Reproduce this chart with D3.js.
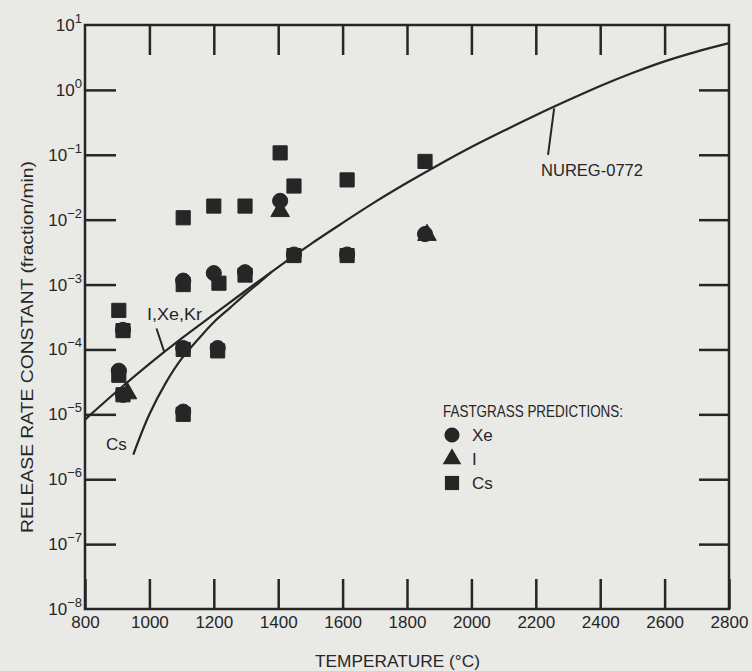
<!DOCTYPE html>
<html lang="en">
<head>
    <meta charset="UTF-8">
    <title>Release rate constant vs temperature</title>
    <script src="https://d3js.org/d3.v7.min.js"></script>
    <style>
        body {
            margin: 0;
            padding: 0;
            background-color: #e9e9e6;
        }
        svg {
            display: block;
            font-family: "Liberation Sans", Arial, sans-serif;
        }
        .ink { fill: #262626; }
    </style>
</head>
<body>
    <svg id="chart"></svg>

    <script>
        // NUREG-0772 curve (I, Xe, Kr)
        const nuregTemp = [800, 900, 1000, 1100, 1200, 1300, 1400, 1500, 1600, 1700, 1800, 1900, 2000, 2100, 2200, 2300, 2400, 2500, 2600, 2700, 2800];
        const nuregRate = [8.3e-6, 2.29e-5, 6.0e-5, 1.48e-4, 3.47e-4, 8.1e-4, 1.86e-3, 4.17e-3, 8.9e-3, 1.86e-2, 3.7e-2, 7.1e-2, 1.32e-1, 2.34e-1, 4.07e-1, 6.9e-1, 1.15, 1.82, 2.75, 3.89, 5.25];

        // NUREG-0772 Cs branch
        const csTemp = [950, 1000, 1050, 1100, 1150, 1200, 1250, 1300, 1350, 1380];
        const csRate = [2.4e-6, 1.0e-5, 3.0e-5, 7.2e-5, 1.41e-4, 2.63e-4, 4.37e-4, 7.24e-4, 1.17e-3, 1.58e-3];

        // FASTGRASS predictions
        const xeTemp = [918, 905, 918, 1105, 1105, 1105, 1200, 1212, 1297, 1406, 1449, 1614, 1856];
        const xeRate = [2.0e-4, 4.7e-5, 2.0e-5, 1.15e-3, 1.05e-4, 1.1e-5, 1.5e-3, 1.05e-4, 1.55e-3, 1.95e-2, 2.9e-3, 2.9e-3, 6.0e-3];

        const iTemp = [932, 1406, 1862];
        const iRate = [2.1e-5, 1.35e-2, 5.8e-3];

        const csPtTemp = [905, 918, 905, 918, 1105, 1105, 1105, 1105, 1200, 1216, 1212, 1297, 1297, 1406, 1449, 1449, 1614, 1614, 1856];
        const csPtRate = [4.0e-4, 1.95e-4, 4.0e-5, 2.0e-5, 1.07e-2, 1.0e-3, 1.0e-4, 1.0e-5, 1.62e-2, 1.05e-3, 9.5e-5, 1.62e-2, 1.4e-3, 1.07e-1, 3.3e-2, 2.8e-3, 4.1e-2, 2.8e-3, 7.9e-2];

        const xTicks = [800, 1000, 1200, 1400, 1600, 1800, 2000, 2200, 2400, 2600, 2800];
        const yExponents = [1, 0, -1, -2, -3, -4, -5, -6, -7, -8];

        const width = 752, height = 671;
        const plotLeft = 85, plotRight = 729, plotTop = 25, plotBottom = 609;
        const ink = "#262626";

        const svg = d3.select("#chart").attr("width", width).attr("height", height);

        const x = d3.scaleLinear().domain([800, 2800]).range([plotLeft, plotRight]);
        const y = d3.scaleLog().domain([1e-8, 10]).range([plotBottom, plotTop]);

        // frame
        svg.append("rect")
            .attr("x", plotLeft).attr("y", plotTop)
            .attr("width", plotRight - plotLeft).attr("height", plotBottom - plotTop)
            .attr("fill", "none").attr("stroke", ink).attr("stroke-width", 2.5);

        // axes with inward ticks
        const styleAxis = g => {
            g.select(".domain").remove();
            g.selectAll(".tick line").attr("stroke", ink).attr("stroke-width", 2.5);
        };

        const xBottom = svg.append("g")
            .attr("transform", `translate(0,${plotBottom})`)
            .call(d3.axisBottom(x).tickValues(xTicks).tickSizeInner(-30).tickSizeOuter(0).tickPadding(7).tickFormat(d3.format("d")))
            .call(styleAxis);
        xBottom.selectAll(".tick text")
            .attr("fill", ink).attr("font-size", 17).attr("font-family", "Liberation Sans, Arial, sans-serif");

        svg.append("g")
            .attr("transform", `translate(0,${plotTop})`)
            .call(d3.axisTop(x).tickValues(xTicks.slice(1, -1)).tickSizeInner(-30).tickSizeOuter(0).tickFormat(""))
            .call(styleAxis);

        const yVals = yExponents.map(e => Math.pow(10, e));

        svg.append("g")
            .attr("transform", `translate(${plotLeft},0)`)
            .call(d3.axisLeft(y).tickValues(yVals.slice(1, -1)).tickSizeInner(-31).tickSizeOuter(0).tickFormat(""))
            .call(styleAxis);

        svg.append("g")
            .attr("transform", `translate(${plotRight},0)`)
            .call(d3.axisRight(y).tickValues(yVals.slice(1, -1)).tickSizeInner(-30).tickSizeOuter(0).tickFormat(""))
            .call(styleAxis);

        // y tick labels as 10^n
        yExponents.forEach(e => {
            const t = svg.append("text")
                .attr("class", "ink")
                .attr("x", plotLeft - 3)
                .attr("y", y(Math.pow(10, e)) + 6)
                .attr("text-anchor", "end")
                .attr("font-size", 17);
            t.append("tspan").text("10");
            t.append("tspan").attr("dy", -8).attr("font-size", 13).text(e < 0 ? "\u2212" + (-e) : e);
        });

        // axis titles
        svg.append("text")
            .attr("class", "ink")
            .attr("x", 315).attr("y", 667)
            .attr("font-size", 17)
            .attr("textLength", 165).attr("lengthAdjust", "spacingAndGlyphs")
            .text("TEMPERATURE (\u00B0C)");

        svg.append("text")
            .attr("class", "ink")
            .attr("transform", "translate(33,347) rotate(-90)")
            .attr("text-anchor", "middle")
            .attr("font-size", 16)
            .attr("textLength", 372).attr("lengthAdjust", "spacingAndGlyphs")
            .text("RELEASE RATE CONSTANT (fraction/min)");

        // curves
        const line = d3.line()
            .x(d => x(d[0]))
            .y(d => y(d[1]))
            .curve(d3.curveCatmullRom.alpha(0.5));

        svg.append("path")
            .datum(nuregTemp.map((t, i) => [t, nuregRate[i]]))
            .attr("d", line)
            .attr("fill", "none").attr("stroke", ink).attr("stroke-width", 2.2);

        svg.append("path")
            .datum(csTemp.map((t, i) => [t, csRate[i]]))
            .attr("d", line)
            .attr("fill", "none").attr("stroke", ink).attr("stroke-width", 2.2);

        // curve labels and leaders
        const leader = (t1, v1, t2, v2) => svg.append("line")
            .attr("x1", x(t1)).attr("y1", y(v1))
            .attr("x2", x(t2)).attr("y2", y(v2))
            .attr("stroke", ink).attr("stroke-width", 2);

        leader(2257, 5.2e-1, 2238, 1.0e-1);
        svg.append("text")
            .attr("class", "ink")
            .attr("x", 541).attr("y", 176)
            .attr("font-size", 17)
            .attr("textLength", 102).attr("lengthAdjust", "spacingAndGlyphs")
            .text("NUREG-0772");

        leader(1022, 2.1e-4, 1046, 9.2e-5);
        svg.append("text")
            .attr("class", "ink")
            .attr("x", 147).attr("y", 320)
            .attr("font-size", 16)
            .attr("textLength", 55).attr("lengthAdjust", "spacingAndGlyphs")
            .text("I,Xe,Kr");

        svg.append("text")
            .attr("class", "ink")
            .attr("x", 106).attr("y", 450)
            .attr("font-size", 17)
            .text("Cs");

        // FASTGRASS points
        const square = d3.symbol().type(d3.symbolSquare).size(200);
        const circle = d3.symbol().type(d3.symbolCircle).size(180);
        const triangle = d3.symbol().type(d3.symbolTriangle).size(150);

        const drawPoints = (temps, rates, sym) => {
            svg.append("g")
                .selectAll("path")
                .data(temps.map((t, i) => [t, rates[i]]))
                .enter()
                .append("path")
                .attr("d", sym)
                .attr("transform", d => `translate(${x(d[0])},${y(d[1])})`)
                .attr("fill", ink)
                .attr("stroke", ink).attr("stroke-width", 1).attr("stroke-linejoin", "round");
        };

        drawPoints(csPtTemp, csPtRate, square);
        drawPoints(xeTemp, xeRate, circle);
        drawPoints(iTemp, iRate, triangle);

        // legend
        svg.append("text")
            .attr("class", "ink")
            .attr("x", 443).attr("y", 417)
            .attr("font-size", 17)
            .attr("textLength", 180).attr("lengthAdjust", "spacingAndGlyphs")
            .text("FASTGRASS PREDICTIONS:");

        const legendItems = [
            { sym: circle, label: "Xe", y: 435 },
            { sym: triangle, label: "I", y: 459 },
            { sym: square, label: "Cs", y: 483 }
        ];
        legendItems.forEach(d => {
            svg.append("path")
                .attr("d", d.sym)
                .attr("transform", `translate(452,${d.y})`)
                .attr("fill", ink);
            svg.append("text")
                .attr("class", "ink")
                .attr("x", 472).attr("y", d.y + 6)
                .attr("font-size", 17)
                .text(d.label);
        });
    </script>
</body>
</html>
